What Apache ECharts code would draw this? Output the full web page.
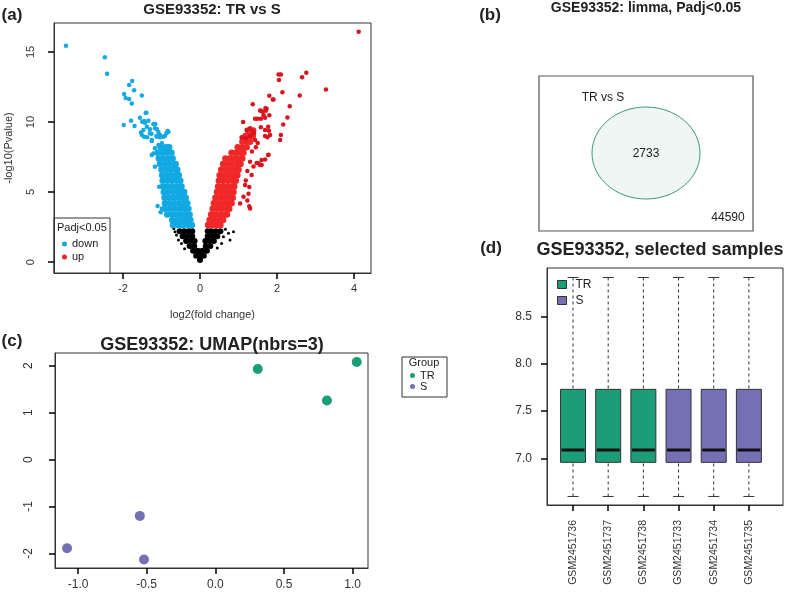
<!DOCTYPE html>
<html>
<head>
<meta charset="utf-8">
<script src="https://cdn.jsdelivr.net/npm/echarts@6/dist/echarts.min.js"></script>
<style>
  html, body { margin: 0; padding: 0; background: #fff; }
  #main { width: 789px; height: 600px; }
</style>
</head>
<body>
<div id="main"></div>
<script>
// ---- (a) volcano: points ----
// sparse points (single dots)
const downSparse = [[-3.48,15.45],[-2.47,14.62],[-2.41,13.45],[-1.76,12.93],[-1.84,12.64],[-1.71,12.26],[-1.97,12.0],[-1.93,11.71],[-1.84,11.64],[-1.51,11.9],[-1.77,11.33],[-1.39,10.67],[-1.79,10.09],[-1.98,9.79],[-1.70,9.71],[-1.50,10.02],[-1.45,10.07],[-1.34,10.09],[-1.16,9.86],[-1.30,9.48],[-1.12,9.5],[-1.53,9.26],[-1.45,8.95],[-1.37,8.91],[-1.25,8.64],[-1.13,9.0],[-1.04,8.91],[-0.91,9.0],[-0.84,9.36],[-1.17,8.12],[-0.99,8.48],[-0.91,8.24],[-1.43,9.95],[-1.38,9.67],[-1.51,9.07],[-1.47,9.43],[-1.30,9.19],[-1.21,9.86],[-1.17,9.55],[-1.25,8.71],[-1.12,8.95],[-1.04,9.07],[-0.95,8.95],[-0.87,9.19],[-0.82,9.31],[-1.08,8.36],[-0.95,8.12],[-1.21,7.76],[-1.25,7.64],[-1.17,6.81],[-1.06,5.38],[-1.10,4.0],[-0.99,3.83],[-1.02,3.55],[-1.56,10.3],[-1.41,10.64],[-1.26,9.17],[-1.08,9.29]];
const upSparse = [[4.12,16.45],[2.10,13.4],[2.05,13.0],[2.76,13.52],[2.65,13.19],[3.27,12.33],[2.14,12.12],[2.59,11.9],[1.80,11.88],[1.91,11.6],[2.33,11.12],[1.37,11.26],[1.58,10.81],[1.63,10.74],[1.70,10.98],[1.71,10.81],[2.27,10.33],[1.80,10.48],[1.43,10.24],[1.49,10.24],[1.58,10.24],[1.69,10.31],[1.12,10.0],[2.16,9.83],[1.58,9.62],[1.79,9.38],[1.69,9.0],[1.75,8.91],[2.10,9.07],[2.08,8.71],[1.21,9.43],[1.30,9.55],[1.38,9.31],[1.08,8.91],[1.19,8.84],[1.30,9.0],[1.40,9.19],[1.52,7.05],[1.60,7.29],[1.77,7.64],[1.60,6.93],[1.30,7.17],[1.34,6.21],[1.17,5.5],[1.13,4.67],[1.04,4.19],[1.30,3.83],[1.77,9.67],[1.69,9.43],[1.82,9.07],[1.43,8.71],[1.78,7.67],[1.69,7.33],[1.47,7.07],[1.56,6.93],[1.39,6.83],[1.23,6.5],[1.19,5.83],[1.28,5.36],[1.26,4.88],[1.23,4.4],[1.28,3.98],[1.56,10.83],[1.73,10.95],[1.65,10.48],[2.04,13.4],[1.89,11.6],[1.45,8.2],[1.5,8.5],[1.35,7.9]];
const nsSparse = [[-0.61,1.93],[-0.56,1.57],[-0.65,2.17],[0.74,2.05],[0.87,2.17],[0.78,1.57],[0.61,1.81],[0.56,1.33],[-0.48,1.33],[0.66,2.35],[-0.68,2.4],[0.45,1.0],[-0.4,0.95]];
// dense cloud points (drawn a bit larger)
const downDense = [[-0.70,2.65],[-0.57,2.65],[-0.45,2.65],[-0.33,2.65],[-0.21,2.65],
  [-0.72,3.0],[-0.60,3.0],[-0.48,3.0],[-0.36,3.0],[-0.25,3.0],
  [-0.85,3.4],[-0.72,3.4],[-0.60,3.4],[-0.48,3.4],[-0.36,3.4],[-0.27,3.4],
  [-0.91,3.8],[-0.78,3.8],[-0.65,3.8],[-0.52,3.8],[-0.40,3.8],[-0.30,3.8],
  [-0.91,4.2],[-0.79,4.2],[-0.67,4.2],[-0.55,4.2],[-0.43,4.2],[-0.33,4.2],
  [-0.92,4.6],[-0.80,4.6],[-0.68,4.6],[-0.56,4.6],[-0.45,4.6],[-0.37,4.6],
  [-0.94,5.0],[-0.82,5.0],[-0.70,5.0],[-0.58,5.0],[-0.47,5.0],[-0.41,5.0],
  [-0.96,5.4],[-0.84,5.4],[-0.72,5.4],[-0.60,5.4],[-0.48,5.4],
  [-0.97,5.8],[-0.85,5.8],[-0.73,5.8],[-0.61,5.8],[-0.51,5.8],
  [-0.98,6.2],[-0.86,6.2],[-0.74,6.2],[-0.62,6.2],[-0.55,6.2],
  [-1.00,6.6],[-0.88,6.6],[-0.76,6.6],[-0.64,6.6],[-0.59,6.6],
  [-1.04,7.0],[-0.92,7.0],[-0.80,7.0],[-0.68,7.0],[-0.63,7.0],
  [-1.07,7.4],[-0.95,7.4],[-0.83,7.4],[-0.71,7.4],
  [-1.10,7.8],[-0.98,7.8],[-0.86,7.8],[-0.74,7.8],
  [-1.02,8.2],[-0.88,8.2],[-0.80,8.2]];
const upDense = [[0.21,2.65],[0.33,2.65],[0.45,2.65],[0.53,2.65],
  [0.25,3.0],[0.37,3.0],[0.49,3.0],[0.60,3.0],
  [0.29,3.4],[0.41,3.4],[0.53,3.4],[0.65,3.4],[0.70,3.4],
  [0.33,3.8],[0.45,3.8],[0.57,3.8],[0.69,3.8],[0.76,3.8],
  [0.36,4.2],[0.48,4.2],[0.60,4.2],[0.72,4.2],[0.82,4.2],
  [0.40,4.6],[0.52,4.6],[0.64,4.6],[0.76,4.6],[0.85,4.6],
  [0.44,5.0],[0.56,5.0],[0.68,5.0],[0.80,5.0],[0.87,5.0],
  [0.47,5.4],[0.59,5.4],[0.71,5.4],[0.83,5.4],[0.89,5.4],
  [0.49,5.8],[0.61,5.8],[0.73,5.8],[0.85,5.8],[0.93,5.8],
  [0.51,6.2],[0.63,6.2],[0.75,6.2],[0.87,6.2],[0.97,6.2],
  [0.55,6.6],[0.67,6.6],[0.79,6.6],[0.91,6.6],[1.00,6.6],
  [0.60,7.0],[0.72,7.0],[0.84,7.0],[0.96,7.0],[1.05,7.0],
  [0.66,7.4],[0.78,7.4],[0.90,7.4],[1.02,7.4],[1.10,7.4],
  [0.82,7.8],[0.94,7.8],[1.06,7.8],[1.13,7.8],
  [0.98,8.2],[1.10,8.2],[1.21,8.2],
  [1.10,8.6],[1.22,8.6],[1.30,8.6],
  [1.18,9.0],[1.30,9.0],[1.37,9.0],
  [1.25,9.4],[1.38,9.4]];
const nsDense = [[0,0.15],
  [-0.1,0.45],[0,0.45],[0.1,0.45],
  [-0.18,0.8],[-0.06,0.8],[0.06,0.8],[0.18,0.8],
  [-0.27,1.15],[-0.15,1.15],[0.15,1.15],[0.27,1.15],
  [-0.36,1.5],[-0.24,1.5],[-0.14,1.5],[0.14,1.5],[0.24,1.5],[0.36,1.5],
  [-0.45,1.85],[-0.33,1.85],[-0.2,1.85],[0.2,1.85],[0.33,1.85],[0.45,1.85],
  [-0.53,2.2],[-0.41,2.2],[-0.29,2.2],[-0.2,2.2],[0.2,2.2],[0.29,2.2],[0.41,2.2],[0.53,2.2]];
const volcanoXTicks = [-2, 0, 2, 4];
const volcanoYTicks = [0, 5, 10, 15];

// ---- (b) venn ----
const vennSet = 'TR vs S';
const vennInside = 2733;
const vennOutside = 44590;

// ---- (c) UMAP ----
const umapTR = [[0.309,1.93],[1.03,2.08],[0.813,1.26]];
const umapS = [[-0.55,-1.20],[-1.08,-1.89],[-0.52,-2.13]];
const umapXTicks = [-1.0, -0.5, 0.0, 0.5, 1.0];
const umapYTicks = [-2, -1, 0, 1, 2];

// ---- (d) boxplots ----
const samples = ['GSM2451736','GSM2451737','GSM2451738','GSM2451733','GSM2451734','GSM2451735'];
const sampleGroup = ['TR','TR','TR','S','S','S'];
const whiskerLow = [6.60, 6.60, 6.60, 6.60, 6.60, 6.60];
const quart1 = [6.96, 6.96, 6.96, 6.96, 6.96, 6.96];
const medians = [7.09, 7.09, 7.09, 7.09, 7.09, 7.09];
const quart3 = [7.73, 7.73, 7.73, 7.73, 7.73, 7.73];
const whiskerHigh = [8.91, 8.91, 8.91, 8.91, 8.91, 8.91];
const boxYTicks = [7.0, 7.5, 8.0, 8.5];

const FONT = 'Liberation Sans, Arial, Helvetica, sans-serif';
const GREEN = '#1b9e77', PURPLE = '#7570b3';
const BLUE = '#12a9e3', RED = '#f02828';

function boxRows(group) {
  const out = [];
  samples.forEach(function (s, i) {
    if (sampleGroup[i] === group)
      out.push([i + 1, whiskerLow[i], quart1[i], medians[i], quart3[i], whiskerHigh[i]]);
  });
  return out;
}

function renderBox(params, api) {
  const x = api.value(0);
  const lo = api.coord([x, api.value(1)]);
  const b1 = api.coord([x, api.value(2)]);
  const md = api.coord([x, api.value(3)]);
  const b3 = api.coord([x, api.value(4)]);
  const hi = api.coord([x, api.value(5)]);
  const w = api.size([0.71, 0])[0];
  const cap = w * 0.22;
  const line = { stroke: '#333', lineWidth: 1 };
  const dash = { stroke: '#333', lineWidth: 1, lineDash: [3, 3] };
  return {
    type: 'group',
    children: [
      { type: 'line', shape: { x1: lo[0], y1: lo[1], x2: b1[0], y2: b1[1] }, style: dash },
      { type: 'line', shape: { x1: hi[0], y1: hi[1], x2: b3[0], y2: b3[1] }, style: dash },
      { type: 'line', shape: { x1: lo[0] - cap, y1: lo[1], x2: lo[0] + cap, y2: lo[1] }, style: line },
      { type: 'line', shape: { x1: hi[0] - cap, y1: hi[1], x2: hi[0] + cap, y2: hi[1] }, style: line },
      { type: 'rect', shape: { x: b3[0] - w / 2, y: b3[1], width: w, height: b1[1] - b3[1] },
        style: { fill: api.visual('color'), stroke: '#333', lineWidth: 1 } },
      { type: 'line', shape: { x1: md[0] - w / 2 + 1, y1: md[1], x2: md[0] + w / 2 - 1, y2: md[1] },
        style: { stroke: '#111', lineWidth: 3 } }
    ]
  };
}

function valAxis(grid, min, max, ticks, extra) {
  const ax = {
    type: 'value', gridIndex: grid, min: min, max: max, z: 10,
    axisLine: { show: true, onZero: false, lineStyle: { color: '#333', width: 1 } },
    splitLine: { show: false },
    axisTick: { show: true, length: 6, customValues: ticks, lineStyle: { color: '#000', width: 1.5 } },
    axisLabel: { customValues: ticks, color: '#333', fontFamily: FONT, fontSize: 11 }
  };
  if (extra) {
    if (extra.axisLabel) Object.assign(ax.axisLabel, extra.axisLabel);
    Object.keys(extra).forEach(function (k) { if (k !== 'axisLabel') ax[k] = extra[k]; });
  }
  return ax;
}

function txt(x, y, text, size, weight, align) {
  return { type: 'text', x: x, y: y, silent: true, z: 10,
    style: { text: text, fontSize: size, fontWeight: weight || 'normal', fontFamily: FONT,
      fill: '#222', align: align || 'center', verticalAlign: 'middle' } };
}

const chart = echarts.init(document.getElementById('main'));
const gridStyle = { show: true, borderColor: '#333', borderWidth: 1 };

const option = {
  animation: false,
  backgroundColor: '#fff',
  grid: [
    Object.assign({ left: 54, top: 23, width: 317, height: 250 }, gridStyle),
    Object.assign({ left: 55, top: 353, width: 313, height: 215 }, gridStyle),
    Object.assign({ left: 547, top: 268, width: 236, height: 237 }, gridStyle)
  ],
  xAxis: [
    valAxis(0, -3.79, 4.44, volcanoXTicks, {
      name: 'log2(fold change)', nameLocation: 'middle', nameGap: 36,
      nameTextStyle: { fontFamily: FONT, fontSize: 11, color: '#333' },
      axisLabel: { margin: 10 }
    }),
    valAxis(1, -1.168, 1.112, umapXTicks, {
      axisLabel: { margin: 11, fontSize: 12, formatter: function (v) { return v.toFixed(1); } }
    }),
    valAxis(2, 0.26, 6.97, [1, 2, 3, 4, 5, 6], {
      axisLabel: { margin: 15, fontSize: 10.5, rotate: 90,
        formatter: function (v) { return samples[Math.round(v) - 1]; } }
    })
  ],
  yAxis: [
    valAxis(0, -0.78, 17.07, volcanoYTicks, {
      name: '-log10(Pvalue)', nameLocation: 'middle', nameGap: 40,
      nameTextStyle: { fontFamily: FONT, fontSize: 11, color: '#333' },
      axisLabel: { rotate: 90, margin: 18 }
    }),
    valAxis(1, -2.31, 2.27, umapYTicks, {
      axisLabel: { rotate: 90, margin: 20, fontSize: 12 }
    }),
    valAxis(2, 6.51, 9.01, boxYTicks, {
      axisLabel: { margin: 15, fontSize: 12, formatter: function (v) { return v.toFixed(1); } }
    })
  ],
  legend: [
    { data: ['down', 'up'], orient: 'vertical', left: 62, top: 238, padding: 0, z: 12,
      itemWidth: 5, itemHeight: 5, itemGap: 1, icon: 'circle',
      textStyle: { fontFamily: FONT, fontSize: 11, color: '#222', lineHeight: 12 } },
    { data: [{ name: 'TR', icon: 'circle' }, { name: 'S', icon: 'circle' }], orient: 'vertical',
      left: 410, top: 370, padding: 0, itemWidth: 5, itemHeight: 5, itemGap: 0, z: 12,
      textStyle: { fontFamily: FONT, fontSize: 11, color: '#222', lineHeight: 11 } },
    { data: [{ name: 'TR', icon: 'rect' }, { name: 'S', icon: 'rect' }], orient: 'vertical',
      left: 557, top: 278, padding: 0, itemWidth: 9, itemHeight: 8, itemGap: 3, z: 12,
      itemStyle: { borderColor: '#333', borderWidth: 1 },
      textStyle: { fontFamily: FONT, fontSize: 12, color: '#222', lineHeight: 13, padding: [0, 0, 0, 4] } }
  ],
  series: [
    { name: 'ns', type: 'scatter', xAxisIndex: 0, yAxisIndex: 0, data: nsDense, symbolSize: 6, itemStyle: { color: '#000', opacity: 1 } },
    { name: 'ns', type: 'scatter', xAxisIndex: 0, yAxisIndex: 0, data: nsSparse, symbolSize: 3, itemStyle: { color: '#000', opacity: 1 } },
    { name: 'down', type: 'scatter', xAxisIndex: 0, yAxisIndex: 0, data: downDense, symbolSize: 6.5, itemStyle: { color: BLUE, opacity: 1 } },
    { name: 'down', type: 'scatter', xAxisIndex: 0, yAxisIndex: 0, data: downSparse, symbolSize: 4.5, itemStyle: { color: BLUE, opacity: 1 } },
    { name: 'up', type: 'scatter', xAxisIndex: 0, yAxisIndex: 0, data: upDense, symbolSize: 6.5, itemStyle: { color: RED, opacity: 1 } },
    { name: 'up', type: 'scatter', xAxisIndex: 0, yAxisIndex: 0, data: upSparse, symbolSize: 4.5, itemStyle: { color: '#d9141c', opacity: 1 } },
    { name: 'TR', type: 'scatter', xAxisIndex: 1, yAxisIndex: 1, data: umapTR, symbolSize: 10, itemStyle: { color: GREEN, opacity: 1 } },
    { name: 'S', type: 'scatter', xAxisIndex: 1, yAxisIndex: 1, data: umapS, symbolSize: 10, itemStyle: { color: PURPLE, opacity: 1 } },
    { name: 'TR', type: 'custom', xAxisIndex: 2, yAxisIndex: 2, data: boxRows('TR'), renderItem: renderBox,
      encode: { x: 0, y: [1, 2, 3, 4, 5] }, itemStyle: { color: GREEN } },
    { name: 'S', type: 'custom', xAxisIndex: 2, yAxisIndex: 2, data: boxRows('S'), renderItem: renderBox,
      encode: { x: 0, y: [1, 2, 3, 4, 5] }, itemStyle: { color: PURPLE } }
  ],
  graphic: [
    // panel letters
    txt(12, 15, '(a)', 17, 'bold'),
    txt(490, 15, '(b)', 17, 'bold'),
    txt(12, 341, '(c)', 17, 'bold'),
    txt(491, 248, '(d)', 17, 'bold'),
    // titles
    txt(212, 10, 'GSE93352: TR vs S', 15, 'bold'),
    txt(646, 8, 'GSE93352: limma, Padj<0.05', 14, 'bold'),
    txt(212, 345, 'GSE93352: UMAP(nbrs=3)', 18, 'bold'),
    txt(660, 250, 'GSE93352, selected samples', 18, 'bold'),
    // (a) legend frame
    { type: 'rect', shape: { x: 54, y: 218, width: 56, height: 55 }, silent: true, z: 5,
      style: { fill: '#fff', stroke: '#333', lineWidth: 1 } },
    txt(57, 228, 'Padj<0.05', 11, 'normal', 'left'),
    // (c) legend frame
    { type: 'rect', shape: { x: 402, y: 357, width: 45, height: 40 }, silent: true, z: 5,
      style: { fill: '#fff', stroke: '#333', lineWidth: 1 } },
    txt(424, 363, 'Group', 11),
    // (b) venn
    { type: 'rect', shape: { x: 539, y: 76, width: 214, height: 155 }, silent: true,
      style: { fill: '#fff', stroke: '#555', lineWidth: 1.2 } },
    { type: 'ellipse', shape: { cx: 646, cy: 153, rx: 54, ry: 46 }, silent: true,
      style: { fill: '#eff6f3', stroke: '#3e9a7c', lineWidth: 1 } },
    txt(603, 98, vennSet, 12),
    txt(646, 154, String(vennInside), 12),
    txt(728, 218, String(vennOutside), 12)
  ]
};
chart.setOption(option);
</script>
</body>
</html>
